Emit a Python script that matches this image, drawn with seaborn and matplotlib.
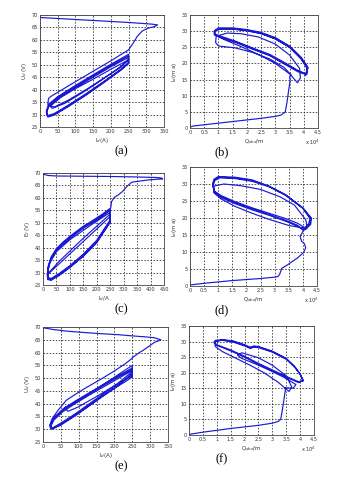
import numpy as np
import pandas as pd
import seaborn as sns
import matplotlib.pyplot as plt

# ---- panel (a): U_d (V) vs I_d (A) ----
a_start_x = [0, 50, 100, 150, 200, 250, 290, 318, 332, 322, 305, 288, 275, 262, 250]
a_start_y = [69.0, 68.6, 68.2, 67.8, 67.4, 67.0, 66.6, 66.3, 66.0, 65.3, 64.7, 63.5, 61.5, 58.5, 56.0]
a_loops_x = [
    [250, 200, 150, 100, 60, 30, 24, 22, 35, 70, 120, 170, 220, 250],
    [250, 200, 150, 100, 50, 25, 18, 22, 40, 80, 130, 180, 230, 250],
    [250, 200, 150, 100, 50, 25, 18, 22, 40, 80, 130, 180, 230, 250],
    [250, 200, 150, 100, 50, 25, 18, 22, 40, 80, 130, 180, 230, 250],
    [250, 200, 150, 100, 60, 30, 40, 80, 130, 180, 230, 250],
]
a_loops_y = [
    [56.0, 51.6, 47.4, 43.2, 39.8, 37.2, 36.4, 34.0, 32.5, 34.5, 38.8, 43.5, 48.5, 51.8],
    [54.2, 50.2, 46.0, 41.7, 37.2, 34.2, 31.5, 29.6, 30.4, 33.8, 38.4, 43.3, 48.4, 50.8],
    [53.6, 49.7, 45.5, 41.2, 36.8, 33.8, 31.0, 29.2, 30.0, 33.4, 38.0, 43.0, 48.2, 50.4],
    [53.0, 49.2, 45.0, 40.8, 36.4, 33.4, 30.6, 29.0, 29.8, 33.2, 37.8, 42.8, 48.0, 51.0],
    [52.0, 48.2, 44.2, 40.4, 37.0, 33.5, 33.0, 35.8, 40.0, 44.6, 49.2, 52.5],
]

# ---- panel (b): I_d vs Q_dbd ----
b_start_x = [0.0, 0.1, 0.5, 1.0, 1.5, 2.0, 2.5, 3.0, 3.2, 3.35, 3.42, 3.47, 3.52, 3.5, 3.55]
b_start_y = [0.2, 0.6, 1.0, 1.5, 2.0, 2.5, 3.0, 3.6, 4.0, 5.0, 8.5, 11.8, 14.8, 15.8, 16.5]
b_loops_x = [
    [3.55, 3.3, 2.8, 2.2, 1.6, 1.0, 0.9, 0.92, 1.3, 1.8, 2.4, 3.0, 3.5, 3.85, 3.88, 3.78],
    [3.78, 3.5, 3.0, 2.4, 1.8, 1.2, 0.88, 0.85, 1.0, 1.5, 2.0, 2.5, 3.0, 3.5, 3.9, 4.12, 4.1],
    [4.1, 3.8, 3.4, 2.8, 2.2, 1.6, 1.05, 0.85, 0.86, 1.0, 1.5, 2.0, 2.5, 3.0, 3.5, 3.9, 4.12, 4.08],
    [4.08, 3.8, 3.4, 2.8, 2.2, 1.6, 1.05, 0.86, 0.87, 1.0, 1.5, 2.0, 2.5, 3.0, 3.5, 3.9, 4.14, 4.1],
    [4.1, 3.8, 3.4, 2.8, 2.2, 1.6, 1.05, 0.87, 0.88, 1.0, 1.5, 2.0, 2.5, 3.0, 3.5, 3.9, 4.15, 4.05],
]
b_loops_y = [
    [16.5, 18.8, 21.4, 23.4, 24.8, 25.4, 26.5, 28.4, 29.4, 29.2, 28.2, 26.0, 22.6, 18.5, 15.5, 14.0],
    [14.0, 16.8, 20.0, 22.8, 25.2, 27.4, 28.8, 30.0, 30.7, 30.7, 30.2, 29.3, 27.6, 25.0, 21.4, 18.4, 16.6],
    [16.6, 17.6, 19.6, 22.6, 24.6, 26.7, 28.3, 29.0, 30.0, 30.8, 30.8, 30.3, 29.4, 27.8, 25.2, 21.8, 18.8, 16.8],
    [16.8, 17.8, 19.9, 22.8, 24.8, 26.9, 28.5, 29.2, 30.2, 31.0, 31.0, 30.5, 29.6, 28.0, 25.4, 22.0, 18.9, 16.5],
    [16.5, 17.4, 19.4, 22.4, 24.4, 26.5, 28.1, 28.8, 29.8, 30.6, 30.6, 30.1, 29.2, 27.6, 25.0, 21.6, 18.6, 16.2],
]

# ---- panel (c): E_f (V) vs I_d ----
c_start_x = [0, 20, 50, 150, 250, 350, 420, 440, 445, 425, 390, 350, 330, 312, 295, 280, 265, 255, 252]
c_start_y = [69.5, 69.0, 68.8, 68.7, 68.6, 68.4, 68.2, 68.0, 67.6, 67.5, 67.2, 66.6, 66.3, 64.6, 62.5, 61.2, 60.2, 58.5, 56.0]
c_loops_x = [
    [252, 220, 180, 150, 100, 70, 50, 30, 20, 16, 18, 30, 60, 100, 150, 200, 250],
    [250, 220, 180, 150, 100, 70, 50, 30, 20, 16, 18, 30, 60, 100, 150, 200, 250],
    [250, 180, 100, 50, 25, 18, 20, 30, 60, 100, 150, 200, 250],
    [250, 150, 60, 25, 20, 60, 150, 250],
    [250, 220, 180, 150, 100, 70, 50, 30, 20, 17, 19, 30, 60, 100, 150, 200, 250],
]
c_loops_y = [
    [56.0, 53.4, 50.6, 48.6, 44.6, 41.8, 39.6, 36.2, 32.8, 29.5, 27.2, 26.9, 28.8, 32.0, 36.5, 42.0, 50.2],
    [55.0, 52.6, 49.8, 47.8, 43.8, 41.0, 38.8, 35.4, 32.0, 29.0, 27.6, 27.3, 29.2, 32.4, 37.0, 42.6, 50.8],
    [54.2, 49.2, 43.2, 38.4, 33.8, 30.0, 28.0, 27.6, 29.6, 32.8, 37.4, 43.0, 51.2],
    [53.5, 43.8, 34.5, 30.3, 29.5, 33.5, 42.5, 52.5],
    [55.4, 53.0, 50.2, 48.2, 44.2, 41.4, 39.2, 35.8, 32.4, 29.2, 27.4, 27.1, 29.0, 32.2, 36.8, 42.3, 50.5],
]

# ---- panel (d): I_d vs Q_dbd ----
d_start_x = [0.0, 0.5, 1.0, 1.5, 2.0, 2.5, 3.0, 3.12, 3.18, 3.25, 3.45, 3.8, 4.02, 4.1, 4.05, 3.95, 3.9, 4.0, 4.1]
d_start_y = [0.3, 0.8, 1.2, 1.6, 1.9, 2.2, 2.6, 2.8, 3.5, 5.2, 6.2, 8.2, 9.8, 11.2, 12.5, 13.2, 14.6, 16.0, 17.0]
d_loops_x = [
    [4.1, 3.8, 3.4, 2.8, 2.2, 1.6, 1.1, 0.85, 0.8, 0.85, 1.0, 1.6, 2.2, 2.8, 3.4, 4.0, 4.3, 4.28, 4.1],
    [4.1, 3.8, 3.4, 2.8, 2.2, 1.6, 1.1, 0.85, 0.82, 0.88, 1.05, 1.6, 2.2, 2.8, 3.4, 4.0, 4.25, 4.2, 4.05],
    [4.05, 3.5, 2.8, 2.2, 1.6, 1.1, 0.85, 0.85, 1.2, 1.8, 2.5, 3.2, 3.7, 4.1, 4.15, 4.0],
    [4.0, 3.8, 3.4, 2.8, 2.2, 1.6, 1.1, 0.86, 0.81, 0.86, 1.02, 1.6, 2.2, 2.8, 3.4, 4.0, 4.28, 4.25, 4.08],
]
d_loops_y = [
    [17.0, 18.5, 19.8, 21.4, 23.0, 24.8, 26.6, 28.0, 30.0, 31.4, 32.2, 32.0, 31.2, 29.4, 26.8, 23.0, 20.0, 18.2, 16.6],
    [16.6, 17.6, 19.0, 20.8, 22.4, 24.2, 26.0, 27.6, 29.6, 31.0, 31.8, 31.6, 30.8, 29.2, 26.6, 22.8, 19.8, 18.2, 17.0],
    [17.0, 17.8, 19.6, 21.4, 23.4, 25.6, 27.4, 29.4, 30.0, 29.5, 28.4, 26.2, 23.8, 19.5, 17.5, 16.4],
    [16.4, 17.9, 19.3, 21.0, 22.7, 24.5, 26.3, 27.8, 29.8, 31.2, 32.0, 31.8, 31.0, 29.3, 26.7, 22.9, 19.9, 18.2, 16.8],
]

# ---- panel (e): U_d (V) vs I_d (A) ----
e_start_x = [0, 30, 65, 110, 160, 210, 252, 290, 312, 330, 322, 312, 300, 285, 270, 255, 243, 230]
e_start_y = [69.7, 69.0, 68.4, 67.9, 67.4, 67.0, 66.5, 66.1, 65.8, 65.0, 64.5, 64.0, 62.8, 61.3, 60.0, 58.5, 57.0, 55.6]
e_loops_x = [
    [230, 200, 160, 120, 90, 65, 42, 25, 19, 25, 45, 80, 120, 160, 200, 235, 250],
    [250, 210, 170, 130, 90, 55, 30, 20, 25, 50, 90, 130, 170, 210, 250],
    [250, 210, 170, 130, 90, 55, 30, 20, 25, 50, 90, 130, 170, 210, 250],
    [250, 210, 170, 130, 90, 55, 30, 20, 25, 50, 90, 130, 170, 210, 250],
    [250, 180, 120, 80, 60, 70, 100, 150, 200, 250],
]
e_loops_y = [
    [55.6, 52.8, 49.4, 46.2, 43.6, 41.3, 37.4, 34.0, 31.5, 30.2, 31.6, 34.8, 38.3, 42.2, 46.0, 49.0, 50.5],
    [54.0, 50.8, 47.6, 44.3, 41.0, 37.8, 34.5, 31.5, 30.4, 32.0, 35.5, 39.5, 43.4, 47.2, 51.4],
    [53.5, 50.4, 47.2, 44.0, 40.6, 37.4, 34.0, 31.0, 30.0, 31.6, 35.2, 39.2, 43.2, 47.0, 52.0],
    [53.0, 49.8, 46.6, 43.4, 40.0, 36.8, 33.5, 30.6, 30.3, 32.4, 36.0, 40.0, 44.0, 48.0, 52.6],
    [55.0, 48.5, 43.0, 39.5, 38.5, 37.0, 38.8, 42.8, 47.0, 51.0],
]

# ---- panel (f): I_d vs Q_dbd ----
f_start_x = [0.0, 0.5, 1.0, 1.5, 2.0, 2.5, 3.0, 3.2, 3.3, 3.36, 3.42, 3.47, 3.45, 3.75, 3.85]
f_start_y = [0.2, 0.9, 1.5, 2.1, 2.6, 3.1, 3.8, 4.3, 5.0, 8.0, 11.5, 14.5, 15.2, 15.0, 16.2]
f_loops_x = [
    [3.85, 3.4, 2.9, 2.4, 1.9, 1.75, 1.9, 2.5, 3.0, 3.5, 3.7, 3.6],
    [3.6, 3.2, 2.7, 2.2, 1.7, 1.2, 0.95, 0.92, 1.2, 1.6, 2.0, 2.2, 2.35, 2.5, 3.0, 3.5, 3.8, 4.0, 4.1],
    [4.1, 3.95, 3.5, 3.0, 2.5, 2.0, 1.5, 1.0, 0.9, 0.95, 1.2, 1.6, 2.0, 2.2, 2.35, 2.5, 3.0, 3.5, 3.8, 4.0, 4.12],
    [4.12, 3.95, 3.5, 3.0, 2.5, 2.0, 1.5, 1.0, 0.9, 0.97, 1.2, 1.6, 2.0, 2.2, 2.35, 2.5, 3.0, 3.5, 3.8, 4.02, 4.1],
]
f_loops_y = [
    [16.2, 18.6, 20.8, 22.8, 24.6, 25.6, 26.4, 24.8, 22.4, 19.0, 15.4, 14.0],
    [14.0, 17.0, 20.0, 22.4, 24.6, 26.8, 28.4, 29.8, 30.6, 30.2, 29.0, 28.2, 28.6, 28.4, 26.9, 24.6, 22.0, 19.6, 17.6],
    [17.6, 16.8, 18.5, 20.6, 22.7, 25.0, 27.0, 28.8, 29.6, 30.4, 30.6, 30.0, 28.8, 28.0, 28.4, 28.3, 26.8, 24.5, 22.0, 19.5, 17.5],
    [17.5, 17.1, 18.8, 20.9, 23.0, 25.3, 27.3, 29.0, 29.9, 30.2, 30.4, 29.8, 28.6, 27.8, 28.2, 28.1, 26.6, 24.3, 21.8, 19.3, 17.2],
]

x_ticks_i350 = [0, 50, 100, 150, 200, 250, 300, 350]
x_ticks_i450 = [0, 50, 100, 150, 200, 250, 300, 350, 400, 450]
y_ticks_u = [25, 30, 35, 40, 45, 50, 55, 60, 65, 70]
x_ticks_q = [0, 0.5, 1, 1.5, 2, 2.5, 3, 3.5, 4, 4.5]
x_ticklabels_q = ["0", "0.5", "1", "1.5", "2", "2.5", "3", "3.5", "4", "4.5"]
y_ticks_l = [0, 5, 10, 15, 20, 25, 30, 35]

W, H = 346, 480


def box(l, t, r, b):
    return [l / W, 1 - b / H, (r - l) / W, (b - t) / H]


def path(start_x, start_y, loops_x, loops_y):
    xs = list(start_x)
    ys = list(start_y)
    for lx, ly in zip(loops_x, loops_y):
        xs += lx
        ys += ly
    return pd.DataFrame({"x": xs, "y": ys})


def style(ax, xlim, ylim, xticks, yticks, xlabel, ylabel, xticklabels=None):
    ax.set_xlim(*xlim)
    ax.set_ylim(*ylim)
    ax.set_xticks(xticks)
    ax.set_yticks(yticks)
    if xticklabels is not None:
        ax.set_xticklabels(xticklabels)
    ax.grid(True, color="#222222", linestyle=(0, (2, 2)), linewidth=0.55)
    ax.tick_params(direction="in", length=2, width=0.5, labelsize=3.6, pad=1.5,
                   colors="#333333", top=False, right=False)
    for s in ax.spines.values():
        s.set_linewidth(0.6)
        s.set_color("#444444")
    ax.set_xlabel(xlabel, fontsize=4, labelpad=1.5, color="#333333")
    ax.set_ylabel(ylabel, fontsize=4, labelpad=1.5, color="#333333")


sns.set_theme(style="white")
plt.rcParams["font.family"] = ["DejaVu Sans"]

fig = plt.figure(figsize=(3.46, 4.8), dpi=100)
line_color = "#1a1ad2"

panels = [
    ("(a)", (40, 15, 164, 127), path(a_start_x, a_start_y, a_loops_x, a_loops_y), "i350", "U$_d$ (V)"),
    ("(b)", (190, 15, 318, 128), path(b_start_x, b_start_y, b_loops_x, b_loops_y), "q", "I$_d$(m a)"),
    ("(c)", (43, 173, 164, 285), path(c_start_x, c_start_y, c_loops_x, c_loops_y), "i450", "E$_f$ (V)"),
    ("(d)", (190, 167, 317, 286), path(d_start_x, d_start_y, d_loops_x, d_loops_y), "q", "I$_d$(m a)"),
    ("(e)", (43, 327, 168, 442), path(e_start_x, e_start_y, e_loops_x, e_loops_y), "i350", "U$_d$ (V)"),
    ("(f)", (189, 326, 314, 435), path(f_start_x, f_start_y, f_loops_x, f_loops_y), "q", "I$_d$(m a)"),
]

for tag, (l, t, r, b), df, kind, ylabel in panels:
    ax = fig.add_axes(box(l, t, r, b))
    sns.lineplot(data=df, x="x", y="y", sort=False, estimator=None, ax=ax,
                 color=line_color, linewidth=0.85)
    if kind == "i350":
        style(ax, (0, 350), (25, 70), x_ticks_i350, y_ticks_u, "I$_d$(A)", ylabel)
    elif kind == "i450":
        style(ax, (0, 450), (25, 70), x_ticks_i450, y_ticks_u, "I$_d$/A", ylabel)
    else:
        style(ax, (0, 4.5), (0, 35), x_ticks_q, y_ticks_l, "Q$_{dbd}$/m", ylabel, x_ticklabels_q)
        fig.text((r + 2) / W, 1 - (b + 14) / H, "x 10$^{4}$", fontsize=3.6,
                 ha="right", va="center", color="#333333")
    cx = 121 if l < 100 else 222
    fig.text(cx / W, 1 - (b + 24) / H, tag, fontsize=9, family="Liberation Serif",
             ha="center", va="center", color="black")

fig.savefig("out.png", dpi=100, facecolor="white")
